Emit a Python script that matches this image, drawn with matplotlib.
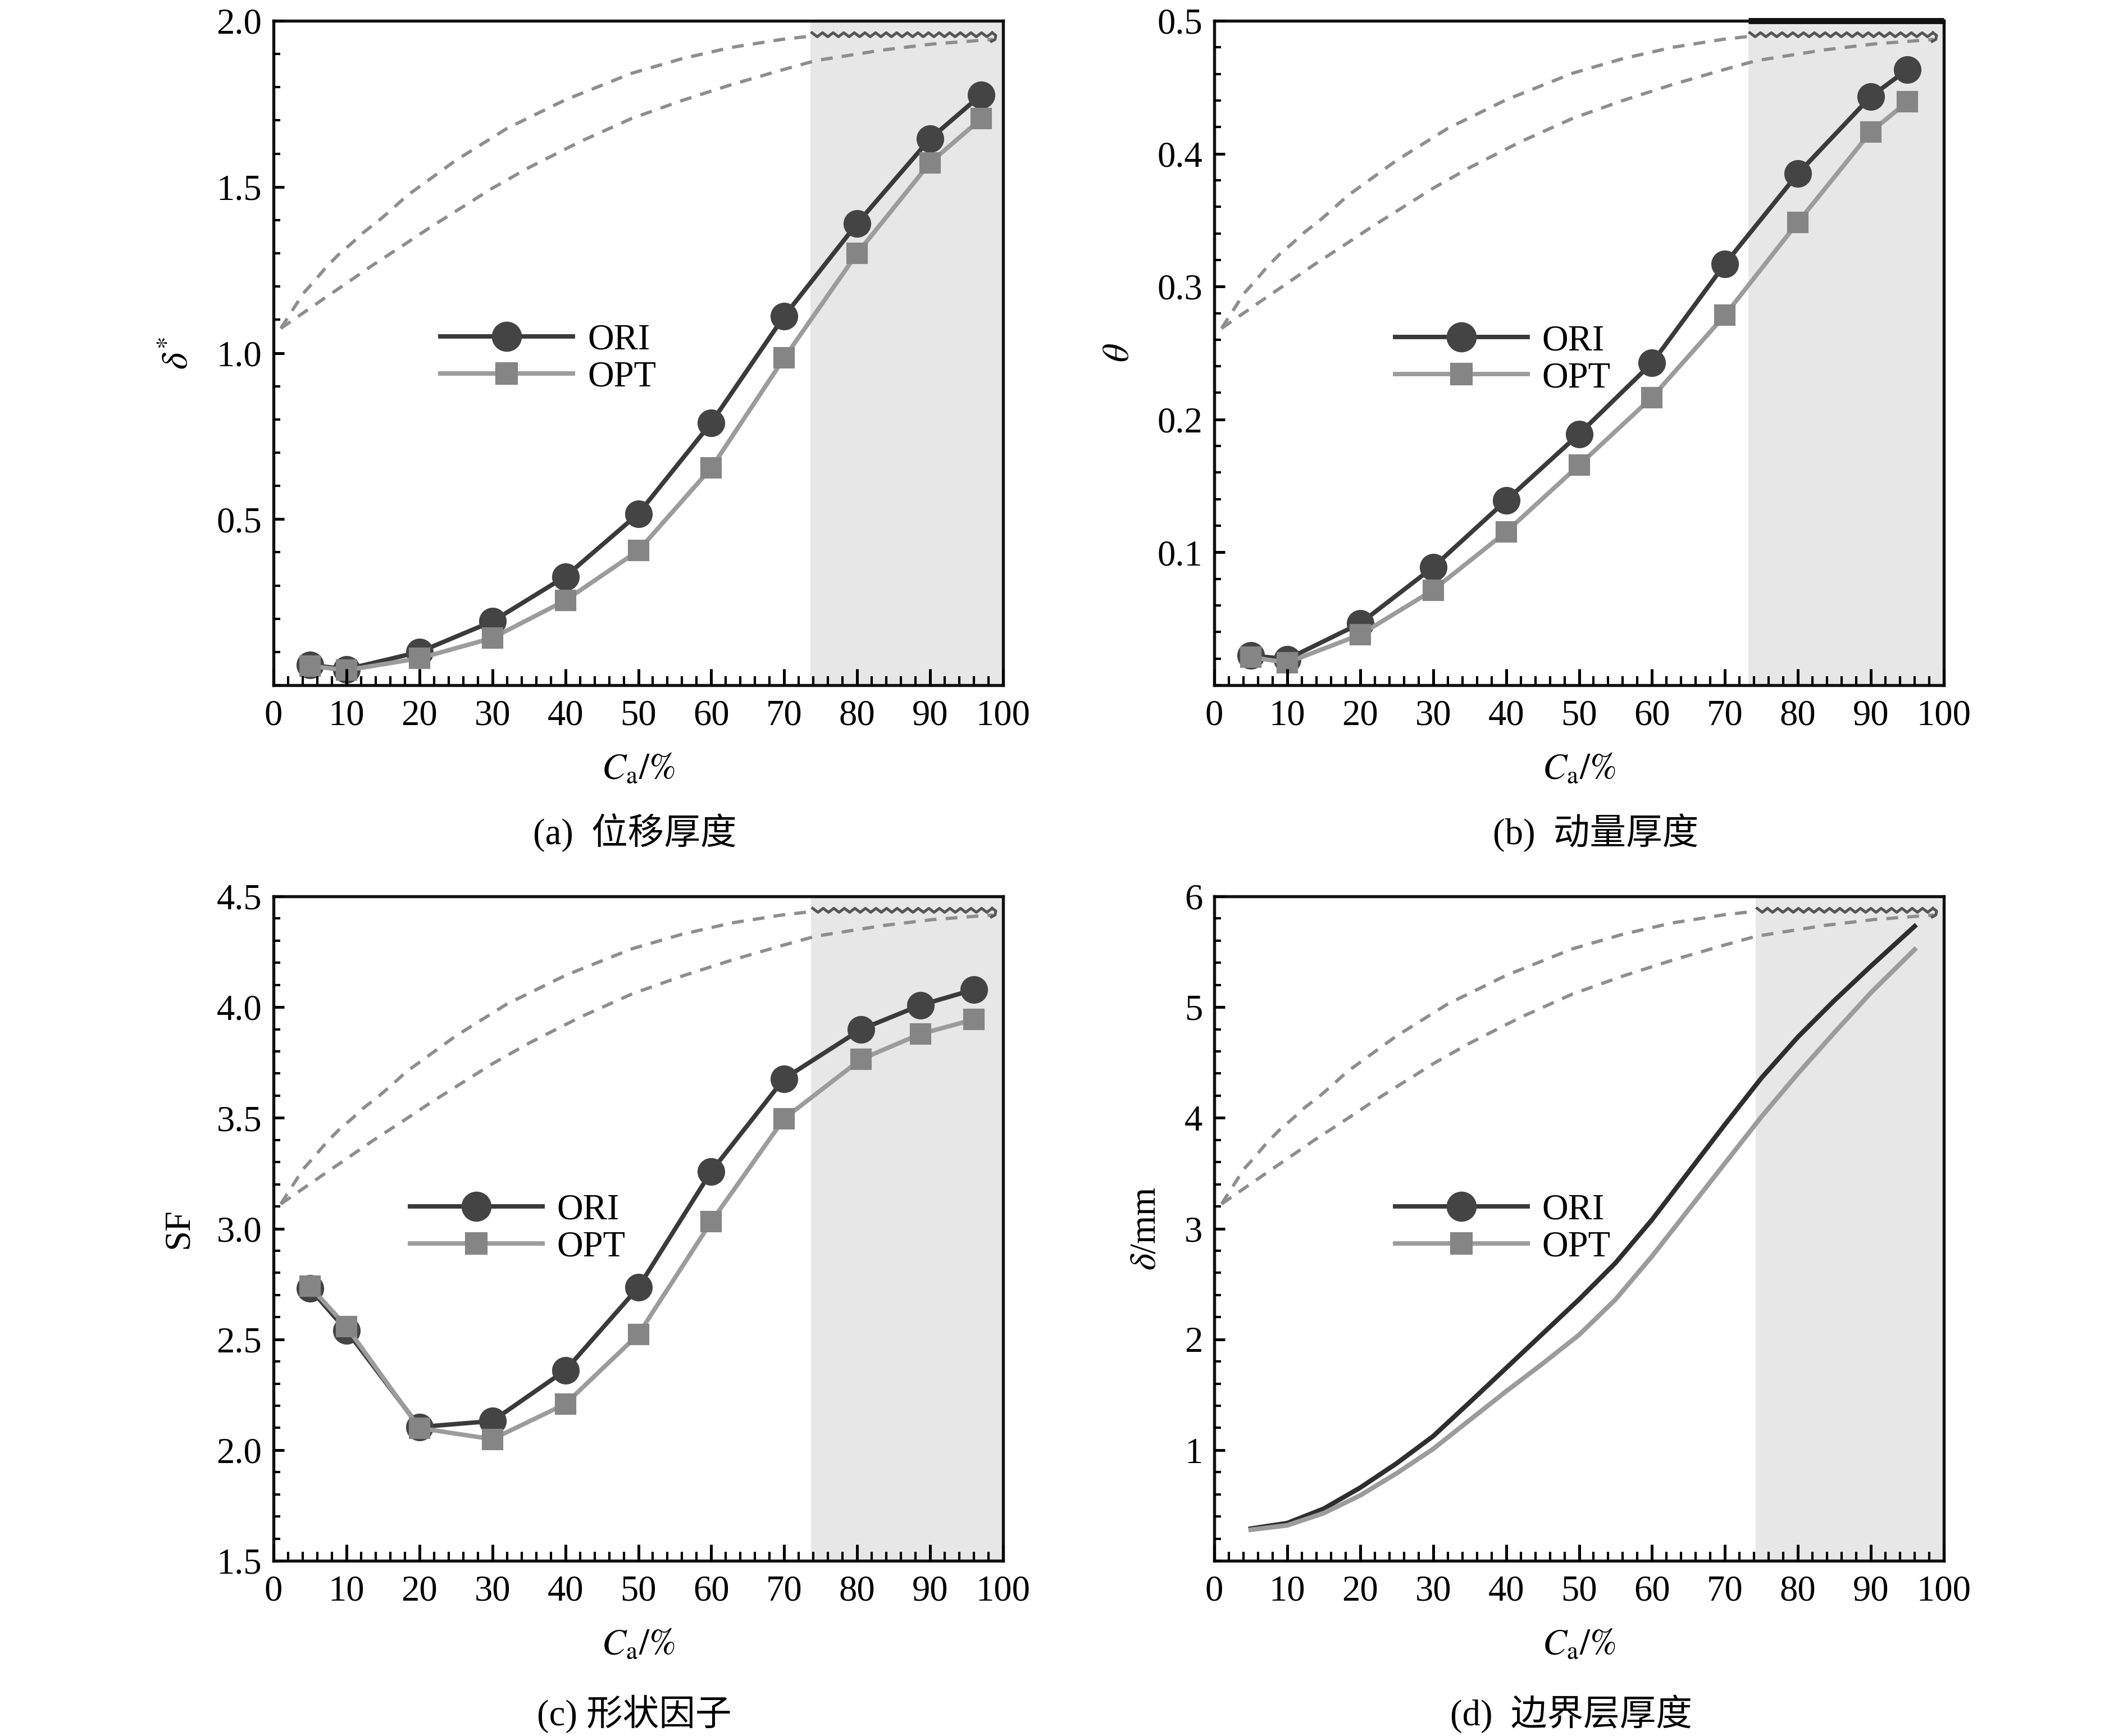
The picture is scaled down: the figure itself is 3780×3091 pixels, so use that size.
import numpy as np
import matplotlib
matplotlib.use('Agg')
import matplotlib.pyplot as plt
from matplotlib.lines import Line2D
from matplotlib.ticker import MultipleLocator

plt.rcParams['font.family'] = ['Liberation Serif', 'Noto Sans CJK SC']
plt.rcParams['mathtext.fontset'] = 'stix'

# ---------------- data ----------------
ca_a = [5, 10, 20, 30, 40, 50, 60, 70, 80, 90, 97]
dstar_ori = [0.061, 0.048, 0.100, 0.192, 0.327, 0.516, 0.790, 1.111, 1.390, 1.645, 1.777]
dstar_opt = [0.058, 0.045, 0.081, 0.142, 0.255, 0.405, 0.654, 0.985, 1.300, 1.573, 1.705]

ca_b = [5, 10, 20, 30, 40, 50, 60, 70, 80, 90, 95]
theta_ori = [0.0224, 0.0196, 0.0465, 0.0888, 0.139, 0.189, 0.2425, 0.317, 0.385, 0.443, 0.4633]
theta_opt = [0.021, 0.017, 0.038, 0.0716, 0.1153, 0.1656, 0.2166, 0.2785, 0.3484, 0.4165, 0.439]

ca_c = [5, 10, 20, 30, 40, 50, 60, 70, 80.5, 88.7, 96]
sf_ori = [2.729, 2.540, 2.104, 2.131, 2.360, 2.734, 3.258, 3.677, 3.899, 4.009, 4.079]
sf_opt = [2.739, 2.557, 2.099, 2.049, 2.208, 2.522, 3.031, 3.497, 3.764, 3.879, 3.944]

ca_d = [5, 10, 15, 20, 25, 30, 35, 40, 45, 50, 55, 60, 65, 70, 75, 80, 85, 90, 96]
delta_ori = [0.29, 0.34, 0.47, 0.66, 0.88, 1.125, 1.43, 1.74, 2.05, 2.36, 2.69, 3.08, 3.51,
             3.94, 4.36, 4.73, 5.06, 5.37, 5.73]
delta_opt = [0.28, 0.32, 0.43, 0.59, 0.79, 1.01, 1.27, 1.53, 1.78, 2.04, 2.36, 2.75, 3.17,
             3.59, 4.01, 4.40, 4.77, 5.13, 5.52]

series_names = ['ORI', 'OPT']
shade_start = [73.6, 73.2, 73.7, 74.2]
captions = ['(a)  位移厚度', '(b)  动量厚度', '(c) 形状因子', '(d)  边界层厚度']
ylabels = [r'$\delta^{*}$', r'$\theta$', 'SF', r'$\delta$/mm']
xlabel = r'$C_{\mathrm{a}}/\%$'

# faint dashed "ghost" curves visible in every panel (axes fraction)
ghost_up_x = [0.010, 0.024, 0.041, 0.055, 0.072, 0.089, 0.107, 0.124, 0.144, 0.162, 0.182,
              0.250, 0.320, 0.400, 0.491, 0.560, 0.628, 0.697, 0.737]
ghost_up_y = [0.537, 0.561, 0.590, 0.607, 0.629, 0.648, 0.665, 0.682, 0.699, 0.716, 0.736,
              0.790, 0.838, 0.881, 0.921, 0.943, 0.960, 0.972, 0.977]
ghost_lo_x = [0.010, 0.060, 0.100, 0.137, 0.179, 0.216, 0.258, 0.300, 0.350, 0.420, 0.491,
              0.560, 0.628, 0.697, 0.743, 0.835, 0.903, 0.986]
ghost_lo_y = [0.537, 0.575, 0.605, 0.633, 0.663, 0.690, 0.719, 0.748, 0.779, 0.818, 0.853,
              0.880, 0.904, 0.926, 0.940, 0.956, 0.965, 0.972]
top_bar_width = [0, 2.6, 0, 0]

# ---------------- figure ----------------
W, H = 3780, 3091
fig = plt.figure(figsize=(W / 300, H / 300), dpi=300)

lefts = [487 / W, 2162 / W, 487 / W, 2162 / W]
bottoms = [1 - 1220 / H, 1 - 1220 / H, 1 - 2779 / H, 1 - 2779 / H]
aw, ah = 1299 / W, 1183 / H

FS = 15.5
ORI_LINE = '#3a3a3a'
ORI_FACE = '#444444'
OPT_LINE = '#9c9c9c'
OPT_FACE = '#858585'
SHADE = '#e7e7e7'
GHOST = '#8e8e8e'

ylims = [(0, 2.0), (0, 0.5), (1.5, 4.5), (0, 6)]
yticks = [[0.5, 1.0, 1.5, 2.0], [0.1, 0.2, 0.3, 0.4, 0.5],
          [1.5, 2.0, 2.5, 3.0, 3.5, 4.0, 4.5], [1, 2, 3, 4, 5, 6]]
yminor = [0.1, 0.02, 0.1, 0.2]
legend_anchor = [(0.229, 0.4915), (0.248, 0.490), (0.187, 0.4995), (0.248, 0.4995)]
caption_xy = [(1130 / W, 1 - 1483 / H), (2841 / W, 1 - 1483 / H),
              (1129 / W, 1 - 3052 / H), (2798 / W, 1 - 3052 / H)]

xs_list = [ca_a, ca_b, ca_c, ca_d]
ori_list = [dstar_ori, theta_ori, sf_ori, delta_ori]
opt_list = [dstar_opt, theta_opt, sf_opt, delta_opt]

for i in range(4):
    ax = fig.add_axes([lefts[i], bottoms[i], aw, ah])
    ax.set_xlim(0, 100)
    ax.set_ylim(*ylims[i])
    ax.set_axisbelow(False)

    # shaded region
    ax.axvspan(shade_start[i], 100, color=SHADE, zorder=0, lw=0)
    if top_bar_width[i] > 0:
        ax.plot([shade_start[i], 100], [ylims[i][1], ylims[i][1]], color='#111111',
                lw=top_bar_width[i], solid_capstyle='butt', clip_on=False, zorder=3)

    # ghost dashed curves
    ax.plot(ghost_up_x, ghost_up_y, transform=ax.transAxes, color=GHOST, lw=1.4,
            ls=(0, (3.6, 2.8)), zorder=1)
    ax.plot(ghost_lo_x, ghost_lo_y, transform=ax.transAxes, color=GHOST, lw=1.4,
            ls=(0, (3.6, 2.8)), zorder=1)
    x0 = shade_start[i] / 100.0
    wx = np.linspace(x0 + 0.002, 0.985, 35)
    wy = np.where(np.arange(35) % 2 == 0, 0.982, 0.976)
    ax.plot(wx, wy, transform=ax.transAxes, color='#555555', lw=1.2, zorder=1)
    ax.plot([0.985, 0.990, 0.989, 0.984], [0.982, 0.978, 0.972, 0.969],
            transform=ax.transAxes, color='#555555', lw=1.2, zorder=1)

    x = xs_list[i]
    if i < 3:
        l1, = ax.plot(x, ori_list[i], color=ORI_LINE, lw=1.9, marker='o', ms=10.8,
                      mfc=ORI_FACE, mec=ORI_FACE, zorder=2.2, label=series_names[0])
        l2, = ax.plot(x, opt_list[i], color=OPT_LINE, lw=1.9, marker='s', ms=8,
                      mfc=OPT_FACE, mec=OPT_FACE, zorder=2.3, label=series_names[1])
        handles = [l1, l2]
    else:
        ax.plot(x, ori_list[i], color='#2e2e2e', lw=2.0, zorder=2.2)
        ax.plot(x, opt_list[i], color='#9c9c9c', lw=2.0, zorder=2.3)
        handles = [Line2D([], [], color=ORI_LINE, lw=1.9, marker='o', ms=10.8,
                          mfc=ORI_FACE, mec=ORI_FACE),
                   Line2D([], [], color=OPT_LINE, lw=1.9, marker='s', ms=8,
                          mfc=OPT_FACE, mec=OPT_FACE)]

    ax.legend(handles, series_names, loc='center left', bbox_to_anchor=legend_anchor[i],
              frameon=False, fontsize=FS, handlelength=3.65, handletextpad=0.4,
              borderpad=0, borderaxespad=0, labelspacing=0.1, markerscale=1.1)

    # ticks
    ax.set_xticks(range(0, 101, 10))
    ax.set_xticklabels([str(v) for v in range(0, 101, 10)])
    ax.xaxis.set_minor_locator(MultipleLocator(2))
    ax.set_yticks(yticks[i])
    ax.yaxis.set_minor_locator(MultipleLocator(yminor[i]))
    ax.tick_params(axis='x', which='major', direction='in', length=7, width=1.2,
                   top=False, pad=6, labelsize=FS)
    ax.tick_params(axis='x', which='minor', direction='in', length=3.8, width=1.0, top=False)
    ax.tick_params(axis='y', which='major', direction='in', length=4.6, width=1.2,
                   right=False, pad=5, labelsize=FS)
    ax.tick_params(axis='y', which='minor', direction='in', length=2.8, width=1.0, right=False)
    for s in ax.spines.values():
        s.set_linewidth(1.3)
        s.set_color('#111111')

    ax.set_xlabel(xlabel, fontsize=FS, labelpad=9)
    ax.set_ylabel(ylabels[i], fontsize=FS, labelpad=9)

    fig.text(caption_xy[i][0], caption_xy[i][1], captions[i], fontsize=FS,
             ha='center', va='center')

fig.savefig('out.png', dpi=300)
